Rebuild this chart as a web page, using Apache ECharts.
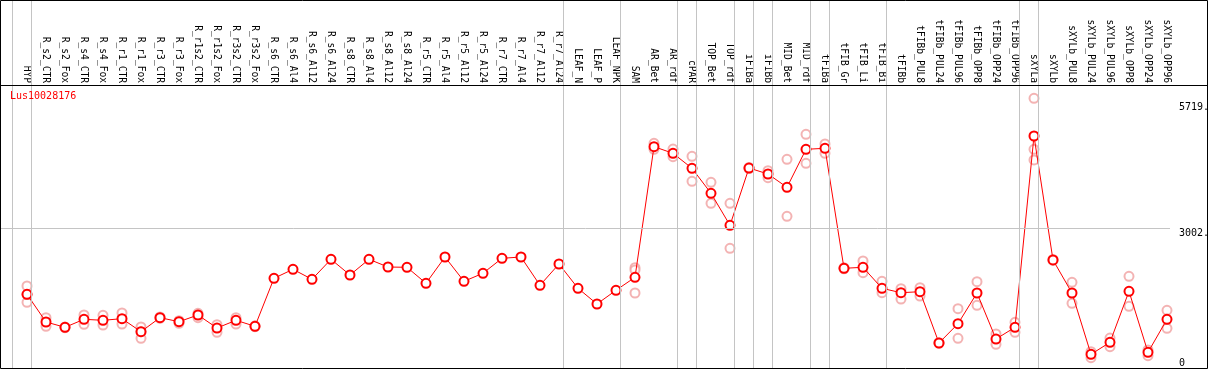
<!DOCTYPE html>
<html>
<head>
<meta charset="utf-8">
<script src="https://cdn.jsdelivr.net/npm/echarts@6/dist/echarts.min.js"></script>
<style>html,body{margin:0;padding:0;background:#fff}#c{width:1209px;height:370px}</style>
</head>
<body>
<div id="c"></div>
<script>
const categories = ['HYP','R_s2_CTR','R_s2_Fox','R_s4_CTR','R_s4_Fox','R_r1_CTR','R_r1_Fox','R_r3_CTR','R_r3_Fox','R_r1s2_CTR','R_r1s2_Fox','R_r3s2_CTR','R_r3s2_Fox','R_s6_CTR','R_s6_Al4','R_s6_Al12','R_s6_Al24','R_s8_CTR','R_s8_Al4','R_s8_Al12','R_s8_Al24','R_r5_CTR','R_r5_Al4','R_r5_Al12','R_r5_Al24','R_r7_CTR','R_r7_Al4','R_r7_Al12','R_r7_Al24','LEAF_N','LEAF_P','LEAF_NPK','SAM','AR_Bet','AR_rdf','cPAR','TOP_Bet','TOP_rdf','iFIBa','iFIBb','MID_Bet','MID_rdf','tFIBa','tFIB_Gr','tFIB_Li','tFIB_Bi','tFIBb','tFIBb_PUL8','tFIBb_PUL24','tFIBb_PUL96','tFIBb_OPP8','tFIBb_OPP24','tFIBb_OPP96','sXYLa','sXYLb','sXYLb_PUL8','sXYLb_PUL24','sXYLb_PUL96','sXYLb_OPP8','sXYLb_OPP24','sXYLb_OPP96'];

const means = [1623,1044,933,1100,1079,1113,841,1134,1050,1190,918,1079,954,1957,2145,1936,2354,2026,2354,2193,2187,1853,2402,1894,2062,2375,2402,1811,2256,1748,1420,1706,1978,4708,4570,4256,3734,3065,4262,4137,3859,4653,4674,2166,2187,1748,1656,1677,605,1008,1650,688,933,4931,2340,1650,369,619,1685,410,1100];

const rep1 = [1796,1134,941,1190,1184,1232,939,1148,1071,1226,987,1134,963,
  null,null,null,null,null,null,null,null,null,null,null,null,null,null,null,null,null,null,null,
  2179,4779,4659,4507,3963,3525,4275,4206,4444,4967,4764,2180,2319,1894,1740,1761,612,1322,1886,793,1037,5719,2350,1874,423,709,1999,459,1288];
const rep2 = [1455,954,925,996,981,1002,703,1120,1017,1134,828,1002,945,
  null,null,null,null,null,null,null,null,null,null,null,null,null,null,null,null,null,null,null,
  2131,4653,4499,3984,3525,2584,4250,4060,3253,4361,4570,2155,2074,1656,1524,1587,600,703,1393,578,828,4653,2330,1435,298,528,1372,339,912];
const rep3 = [1618,null,null,null,null,null,841,null,null,null,null,null,null,
  null,null,null,null,null,null,null,null,null,null,null,null,null,null,null,null,null,null,null,
  1650,null,null,null,null,null,null,null,null,null,null,null,null,null,null,null,null,null,null,null,null,4430,null,null,null,null,null,null,null];

const groupEnds = [-1,0,28,31,34,35,37,38,39,41,42,45,52,53,60];
const refLineValue = 3002;
const yTickLabels = ['5719.','3002.','0'];
const geneName = 'Lus10028176';

const FONT = '"DejaVu Sans Mono", "Liberation Mono", monospace';

function pairs(arr){ const out=[]; arr.forEach((v,i)=>{ if(v!=null) out.push([i,v]); }); return out; }
const repData = pairs(rep1).concat(pairs(rep2), pairs(rep3));

const chart = echarts.init(document.getElementById('c'), null, {renderer:'canvas'});
chart.setOption({
  animation:false,
  backgroundColor:'#fff',
  grid:{left:1, top:0, width:1169, height:369},
  xAxis:{
    type:'value', position:'top', min:-1.3684, max:60.158, offset:-85,
    axisLine:{show:false}, axisTick:{show:false}, splitLine:{show:false},
    axisLabel:{
      customValues: categories.map((c,i)=>i),
      rotate:90, margin:2, color:'#000', fontFamily:FONT, fontSize:9.6,
      formatter:function(v){ return categories[Math.round(v)] || ''; }
    }
  },
  yAxis:{type:'value', min:61.4, max:7773.6, show:false, splitLine:{show:false}},
  series:[
    {
      type:'scatter', name:'reps', data:repData, symbol:'emptyCircle', symbolSize:9,
      itemStyle:{color:'#f0a0a0', borderColor:'#f0a0a0', borderWidth:1.2}, z:2,
      markLine:{
        silent:true, symbol:['none','none'], label:{show:false},
        lineStyle:{color:'#c4c4c4', width:1, type:'solid'},
        data: groupEnds.map(k=>({xAxis:k+0.195})).concat([{yAxis:refLineValue}])
      }
    },
    {
      type:'line', name:'mean', data:means.map((v,i)=>[i,v]), symbol:'emptyCircle', symbolSize:9,
      lineStyle:{color:'#ff0000', width:1}, itemStyle:{color:'#ff0000', borderColor:'#ff0000', borderWidth:1.5}, z:3
    }
  ],
  graphic:[
    {type:'rect', shape:{x:0.5,y:0.5,width:1207,height:368}, style:{fill:null, stroke:'#000', lineWidth:1}, silent:true, z:10},
    {type:'line', shape:{x1:0,y1:85.5,x2:1208,y2:85.5}, style:{stroke:'#000', lineWidth:1}, silent:true, z:10},
    {type:'text', left:10, top:91, style:{text:geneName, fill:'#ff0000', font:'10px '+FONT}, z:10},
    {type:'text', left:1179, top:102, style:{text:yTickLabels[0], fill:'#000', font:'10px '+FONT}, z:10},
    {type:'text', left:1179, top:228, style:{text:yTickLabels[1], fill:'#000', font:'10px '+FONT}, z:10},
    {type:'text', left:1179, top:358, style:{text:yTickLabels[2], fill:'#000', font:'10px '+FONT}, z:10}
  ]
});
</script>
</body>
</html>
